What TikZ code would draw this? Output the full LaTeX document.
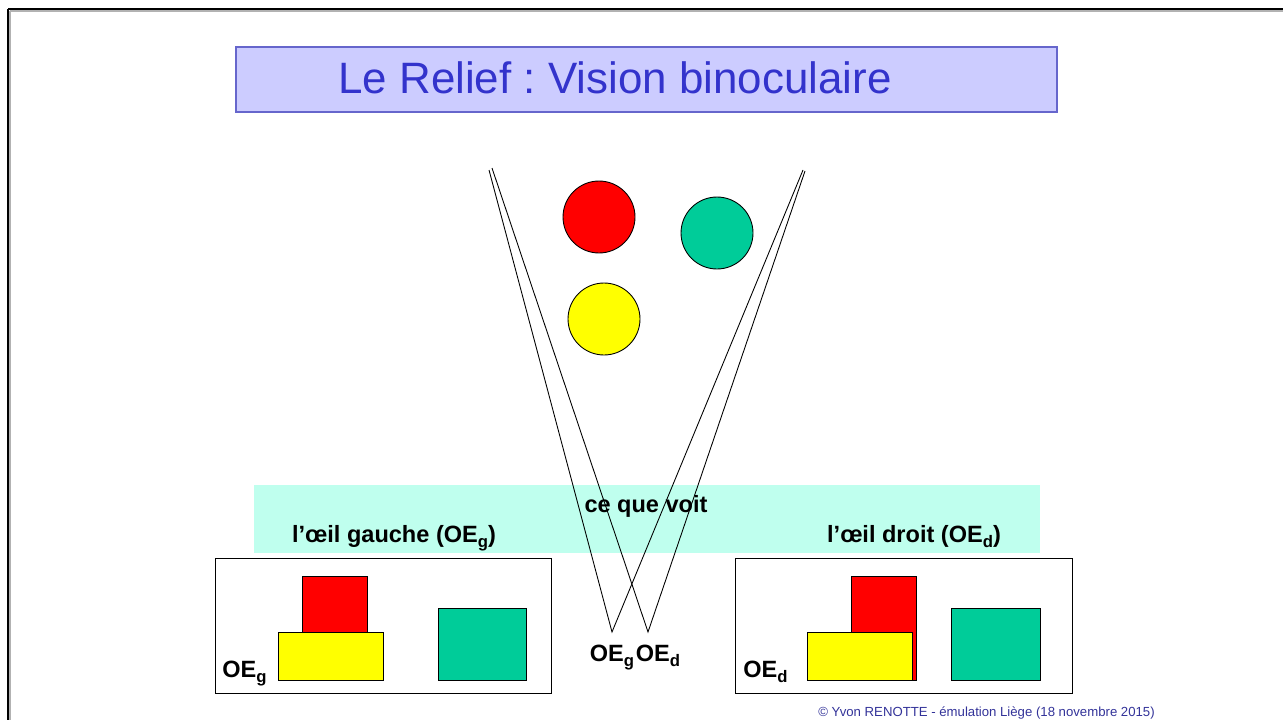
\documentclass[tikz,border=0pt]{standalone}
\usepackage{fontspec}
\setmainfont{Liberation Sans}
\usepackage{xcolor}
\usetikzlibrary{positioning}
\definecolor{titlefill}{RGB}{204,204,255}
\definecolor{titleline}{RGB}{102,102,204}
\definecolor{titletext}{RGB}{51,51,204}
\definecolor{bandfill}{RGB}{191,255,238}
\definecolor{ballgreen}{RGB}{0,204,153}
\definecolor{ballred}{RGB}{255,0,0}
\definecolor{ballyellow}{RGB}{255,255,0}
\definecolor{footertext}{RGB}{51,51,153}
\newcommand{\Ind}[1]{\raisebox{-0.45ex}{\fontsize{9.5}{10}\selectfont #1}}
\frenchspacing

\begin{document}
\begin{tikzpicture}[
x=0.02cm, y=-0.02cm,
Ball/.style={circle,draw=black,line width=0.5pt,minimum size=1.44cm,inner sep=0pt},
Sight/.style={draw=black,line width=0.5pt},
Slab/.style={draw=black,line width=0.5pt},
Frame/.style={draw=black,line width=0.5pt},
Label/.style={font=\fontsize{13.4}{16}\selectfont\bfseries,anchor=base,inner sep=0pt}
]
\useasboundingbox (0,0) rectangle (1283,720);
\clip (0,0) rectangle (1283,720);

% slide border
\draw[gray!60,line width=0.6pt] (10,11)--(1283,11);
\draw[gray!60,line width=0.6pt] (10,11)--(10,720);
\draw[line width=1.7pt] (8,9)--(1283,9);
\draw[line width=1.7pt] (8,9)--(8,720);

% title
\filldraw[fill=titlefill,draw=titleline,line width=0.6pt] (236,47) rectangle (1057,112);
\node[anchor=base,inner sep=0pt,text=titletext,font=\fontsize{25}{28}\selectfont] (Title) at (615,93) {Le Relief : Vision binoculaire};

% the three balls
\node[Ball,fill=ballred] (BallRed) at (599,217) {};
\node[Ball,fill=ballgreen] (BallGreen) at (717,233) {};
\node[Ball,fill=ballyellow] (BallYellow) at (604,319) {};

% band
\fill[bandfill] (254,485) rectangle (1040,553);
\node[Label] (SeeWhat) at (646,512) {ce que voit};
\node[Label] (LeftTitle) at (394,542) {l’œil gauche (OE\Ind{g})};
\node[Label] (RightTitle) at (914,542) {l’œil droit (OE\Ind{d})};

% left eye view
\draw[Frame] (215,558) rectangle (551,693);
\filldraw[Slab,fill=ballred] (302,576) rectangle (367,632);
\filldraw[Slab,fill=ballyellow] (278,632) rectangle (383,680);
\filldraw[Slab,fill=ballgreen] (438,608) rectangle (526,680);
\node[Label,anchor=base west] (ViewG) at (222,677) {OE\Ind{g}};

% right eye view
\draw[Frame] (735,558) rectangle (1072,693);
\filldraw[Slab,fill=ballred] (851,576) rectangle (916,680);
\filldraw[Slab,fill=ballyellow] (807,632) rectangle (912,680);
\filldraw[Slab,fill=ballgreen] (951,608) rectangle (1040,680);
\node[Label,anchor=base west] (ViewD) at (743,677) {OE\Ind{d}};

% eyes and fields of view
\coordinate (EyeG) at (612,632);
\coordinate (EyeD) at (648,632);
\coordinate (FarGL) at (489,170);
\coordinate (FarGR) at (803,170);
\coordinate (FarDL) at (492,168);
\coordinate (FarDR) at (805,171);
\draw[Sight] (FarGL)--(EyeG)--(FarGR);
\draw[Sight] (FarDL)--(EyeD)--(FarDR);
\node[Label] (NameG) at (612,661) {OE\Ind{g}};
\node[Label] (NameD) at (658,661) {OE\Ind{d}};

% footer
\node[anchor=base west,inner sep=0pt,text=footertext,font=\fontsize{7.5}{9}\selectfont] (Footer) at (818,716) {© Yvon RENOTTE - émulation Liège (18 novembre 2015)};

\end{tikzpicture}
\end{document}
